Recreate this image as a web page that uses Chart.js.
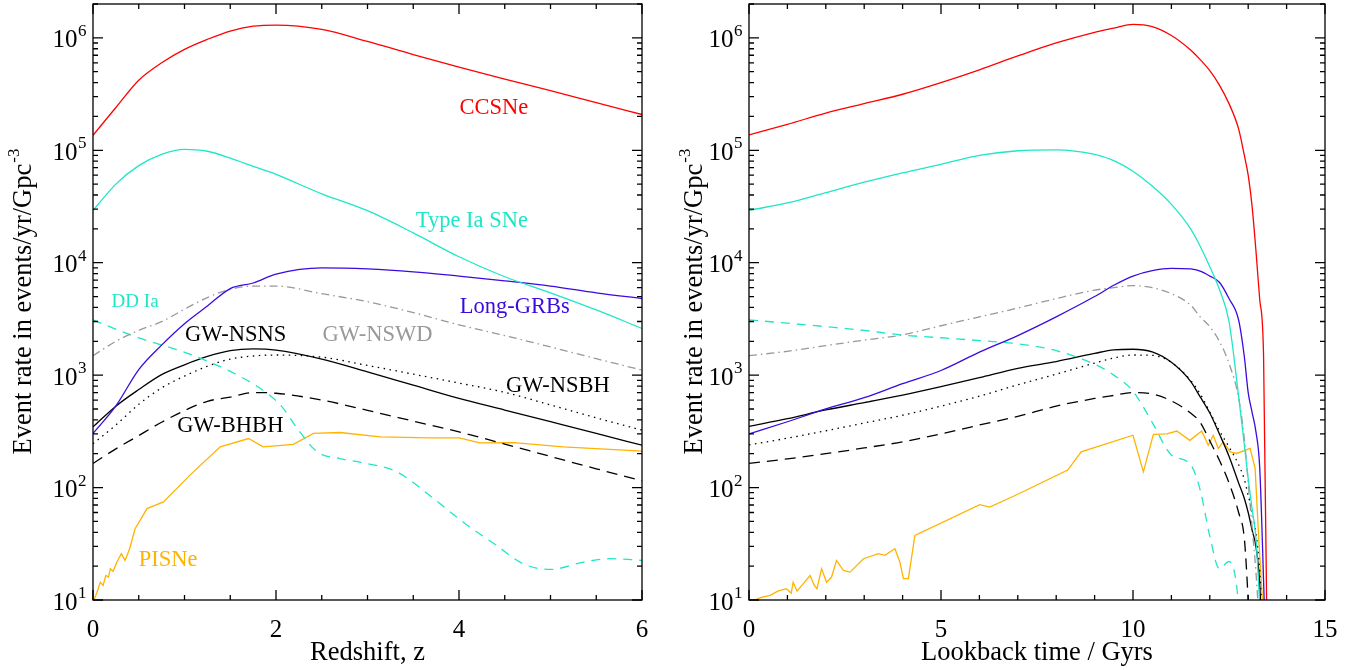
<!DOCTYPE html>
<html>
<head>
<meta charset="utf-8">
<script src="https://cdn.jsdelivr.net/npm/chart.js@4.4.0/dist/chart.umd.min.js"></script>
<style>
  html, body { margin: 0; padding: 0; background: #fff; }
  body { width: 1361px; height: 670px; position: relative; overflow: hidden; }
  canvas { position: absolute; top: 0; }
  #left { left: 0; }
  #right { left: 660px; }
</style>
</head>
<body>
<canvas id="left" width="660" height="670"></canvas>
<canvas id="right" width="701" height="670"></canvas>
<script>
/* ---- values ---- */

// left panel : redshift
const zGrid   = [0, 0.25, 0.5, 0.75, 1, 1.25, 1.5, 1.75, 2, 2.5, 3, 3.5, 4, 4.5, 5, 5.5, 6];
const zCCSNe  = [1.36e5, 2.4e5, 4.2e5, 6.0e5, 7.9e5, 9.7e5, 1.15e6, 1.27e6, 1.30e6, 1.19e6, 9.3e5, 7.1e5, 5.5e5, 4.3e5, 3.4e5, 2.65e5, 2.08e5];
const zTypeIa = [2.92e4, 5.0e4, 7.3e4, 9.2e4, 1.02e5, 9.8e4, 8.5e4, 7.2e4, 6.1e4, 4.1e4, 2.9e4, 1.84e4, 1.13e4, 7.5e3, 5.4e3, 3.8e3, 2.6e3];
const zGRB    = [303, 533, 1120, 1850, 2870, 4120, 5890, 6600, 7900, 9000, 8800, 8300, 7600, 6900, 6200, 5400, 4800];
const zNSWD   = [1490, 2000, 2500, 2990, 3860, 4900, 5800, 6200, 6200, 5300, 4500, 3600, 2800, 2250, 1780, 1400, 1110];
const zNSNS   = [347, 530, 744, 1010, 1235, 1465, 1650, 1710, 1670, 1390, 1070, 815, 621, 489, 385, 303, 238];
const zNSBH   = [245, 360, 550, 770, 980, 1200, 1390, 1480, 1510, 1445, 1220, 1020, 850, 703, 543, 417, 324];
const zBHBH   = [164, 221, 290, 381, 483, 585, 638, 700, 690, 600, 486, 390, 313, 244, 189, 147, 115];

const zDD     = [0, 0.36, 0.51, 0.98, 1.35, 1.6, 1.83, 2.05, 2.26, 2.45, 2.7, 2.95, 3.32, 3.68, 4.05, 4.41, 4.7, 5.0, 5.36, 5.65, 6.0];
const zDDrate = [3100, 2360, 2130, 1620, 1230, 980, 760, 541, 313, 208, 181, 166, 138, 85, 49, 30.6, 21, 18.7, 21.7, 23.3, 22.5];

const zPI     = [0, 0.04, 0.08, 0.11, 0.14, 0.17, 0.19, 0.22, 0.26, 0.31, 0.35, 0.4, 0.46, 0.59, 0.77, 1.06, 1.39, 1.7, 1.86, 2.19, 2.41, 2.7, 3.14, 3.68, 4.0, 4.23, 4.6, 5.14, 6.0];
const zPIrate = [9.5, 11.5, 14.4, 13.5, 16.5, 16, 19, 18, 21.7, 25.8, 22.5, 28.6, 43, 65, 74.5, 129, 230, 273, 230, 242, 303, 309, 282, 277, 277, 250, 251, 230, 211];

// right panel : lookback time (Gyr)
const tGrid   = [0, 1, 2, 3, 4, 5, 6, 7, 8, 9, 9.5, 10, 10.5, 11, 11.5, 11.75, 12, 12.25, 12.5, 12.75, 12.9, 13.0, 13.1, 13.2, 13.3, 13.4, 13.5];
const tCCSNe  = [1.37e5, 1.7e5, 2.14e5, 2.6e5, 3.15e5, 4.0e5, 5.2e5, 6.9e5, 9.0e5, 1.12e6, 1.22e6, 1.32e6, 1.26e6, 1.05e6, 7.8e5, 6.4e5, 5.1e5, 3.8e5, 2.6e5, 1.55e5, 9e4, 6e4, 3.2e4, 1.3e4, 4.7e3, 1.5e3, 2];
const tTypeIa = [2.92e4, 3.4e4, 4.2e4, 5.2e4, 6.3e4, 7.5e4, 9.0e4, 9.9e4, 1.01e5, 9.2e4, 8.1e4, 6.5e4, 4.8e4, 3.3e4, 2.0e4, 1.4e4, 9.2e3, 5.8e3, 3.0e3, 650, 240, 120, 65, 36, 9, 2, 1];
const tGRB    = [300, 385, 500, 630, 840, 1100, 1600, 2250, 3300, 5000, 6300, 7600, 8500, 8900, 8800, 8400, 7600, 6700, 4800, 3100, 1450, 700, 470, 316, 150, 15, 1];
const tNSWD   = [1490, 1630, 1830, 2050, 2280, 2750, 3300, 3950, 4800, 5700, 6000, 6250, 6000, 5300, 4200, 3300, 2700, 2000, 1270, 630, 270, 110, 45, 18, 5, 1, 1];
const tNSNS   = [350, 410, 490, 570, 665, 790, 950, 1150, 1320, 1560, 1680, 1700, 1610, 1300, 880, 640, 460, 300, 190, 110, 80, 60, 42, 30, 14, 2, 1];
const tNSBH   = [240, 275, 320, 375, 440, 530, 650, 820, 1020, 1280, 1420, 1510, 1500, 1300, 900, 680, 470, 320, 230, 160, 118, 85, 62, 40, 18, 4, 1];
const tBHBH   = [164, 180, 200, 225, 255, 300, 360, 430, 530, 620, 660, 700, 680, 590, 460, 380, 260, 175, 110, 60, 35, 10, 2, 1, 1, 1, 1];
const tDD     = [3100, 2900, 2700, 2500, 2270, 2150, 2030, 1900, 1650, 1250, 1000, 720, 380, 195, 160, 95, 37, 19, 22, 9, 1, 1, 1, 1, 1, 1, 1];

const tPI     = [0, 0.3, 0.55, 0.75, 0.97, 1.1, 1.15, 1.25, 1.41, 1.59, 1.7, 1.77, 1.89, 2.02, 2.15, 2.28, 2.46, 2.63, 2.98, 3.37, 3.54, 3.8, 3.93, 4.02, 4.15, 4.32, 6.01, 6.27, 6.93, 8.3, 8.65, 10.0, 10.27, 10.53, 10.88, 11.14, 11.48, 11.79, 11.96, 12.09, 12.22, 12.35, 12.53, 12.7, 13.05, 13.18, 13.27, 13.37, 13.45];
const tPIrate = [9.5, 10.5, 11, 12, 12.6, 11.5, 14.4, 12, 13.9, 16.5, 13.5, 12.6, 19, 14.4, 16, 22.5, 18.3, 17.7, 23.3, 25.8, 25, 28.6, 21.7, 15.5, 15.5, 37.6, 70.5, 67, 85, 143, 208, 292, 138, 297, 300, 318, 263, 318, 238, 292, 223, 255, 208, 201, 223, 148, 37.6, 10, 2];

// axes
const yTickValues = [1e1, 1e2, 1e3, 1e4, 1e5, 1e6];
const yMin = 10, yMax = 2.0e6;

// curve labels on the left panel
const labelText  = ["CCSNe", "Type Ia SNe", "Long-GRBs", "DD Ia", "GW-NSNS", "GW-NSWD", "GW-NSBH", "GW-BHBH", "PISNe"];
const labelZ     = [4.38, 4.14, 4.61, 0.46, 1.56, 3.11, 5.08, 1.5, 0.82];
const labelRate  = [2.35e5, 2.36e4, 4.05e3, 4.48e3, 2.28e3, 2.28e3, 800, 352, 22.5];

/* ---- styles ---- */
const SERIF = "'Liberation Serif', 'Times New Roman', serif";
const RED = '#ff0000', CYAN = '#1fe6c6', BLUE = '#3a0ae0', GREY = '#999999', ORANGE = '#ffb300', BLACK = '#000000';
const labelColor = [RED, CYAN, BLUE, CYAN, BLACK, GREY, BLACK, BLACK, ORANGE];
const labelSize  = [22.5, 22.5, 22.5, 19, 22.5, 22.5, 22.5, 22.5, 22.5];

function pts(xs, ys) {
    return xs.map((x, i) => ({ x: x, y: ys[i] }));
}

function line(xs, ys, color, dash, smooth) {
    return {
        data: pts(xs, ys),
        borderColor: color,
        borderWidth: 1.3,
        borderDash: dash || [],
        cubicInterpolationMode: smooth === false ? 'default' : 'monotone',
        tension: 0,
        pointRadius: 0,
        fill: false
    };
}

const DASH = [11, 7], DDASH = [9, 7], DOT = [1.5, 4.5], DASHDOT = [8, 4, 1.5, 4];

/* ---- frame, inward ticks, y labels and in-plot annotations ---- */
const frameAxes = {
    id: 'frameAxes',
    afterDatasetsDraw(chart, args, opts) {
        const ctx = chart.ctx;
        const a = chart.chartArea;
        const xs = chart.scales.x, ys = chart.scales.y;
        ctx.save();

        // annotations
        (opts.labels || []).forEach(l => {
            ctx.font = l.size + 'px ' + SERIF;
            ctx.fillStyle = l.color;
            ctx.textAlign = 'center';
            ctx.textBaseline = 'middle';
            ctx.fillText(l.text, xs.getPixelForValue(l.x), ys.getPixelForValue(l.y));
        });

        ctx.strokeStyle = '#000';
        ctx.lineWidth = 1.3;
        ctx.strokeRect(a.left, a.top, a.right - a.left, a.bottom - a.top);

        ctx.beginPath();
        const nx = Math.round((xs.max - xs.min) / opts.minorX);
        for (let i = 0; i <= nx; i++) {
            const v = xs.min + i * opts.minorX;
            const px = xs.getPixelForValue(v);
            const major = Math.abs(v / opts.majorX - Math.round(v / opts.majorX)) < 1e-6;
            const len = major ? 10 : 5;
            ctx.moveTo(px, a.bottom); ctx.lineTo(px, a.bottom - len);
            ctx.moveTo(px, a.top); ctx.lineTo(px, a.top + len);
        }
        const d0 = Math.floor(Math.log10(ys.min)), d1 = Math.ceil(Math.log10(ys.max));
        for (let d = d0; d <= d1; d++) {
            for (let m = 1; m <= 9; m++) {
                const v = m * Math.pow(10, d);
                if (v < ys.min * 0.999 || v > ys.max) continue;
                const py = ys.getPixelForValue(v);
                const len = m === 1 ? 10 : 5;
                ctx.moveTo(a.left, py); ctx.lineTo(a.left + len, py);
                ctx.moveTo(a.right, py); ctx.lineTo(a.right - len, py);
            }
        }
        ctx.stroke();

        // y tick labels 10^n
        ctx.fillStyle = '#000';
        ctx.textBaseline = 'alphabetic';
        ctx.textAlign = 'left';
        ys.ticks.forEach(t => {
            const py = ys.getPixelForValue(t.value);
            const exp = String(Math.round(Math.log10(t.value)));
            ctx.font = '25px ' + SERIF;
            const wb = ctx.measureText('10').width;
            ctx.font = '17px ' + SERIF;
            const we = ctx.measureText(exp).width;
            const x0 = a.left - 7 - we - wb;
            ctx.font = '25px ' + SERIF;
            ctx.fillText('10', x0, py + 9.5);
            ctx.font = '17px ' + SERIF;
            ctx.fillText(exp, x0 + wb + 0.5, py - 2);
        });

        // y title with superscript
        const main = 'Event rate in events/yr/Gpc', sup = '-3';
        ctx.font = '26.5px ' + SERIF;
        const wm = ctx.measureText(main).width;
        ctx.font = '17px ' + SERIF;
        const ws = ctx.measureText(sup).width;
        const cy = (a.top + a.bottom) / 2;
        ctx.translate(a.left - opts.titleOffset, cy + (wm + ws) / 2);
        ctx.rotate(-Math.PI / 2);
        ctx.font = '26.5px ' + SERIF;
        ctx.fillText(main, 0, 0);
        ctx.font = '17px ' + SERIF;
        ctx.fillText(sup, wm + 1, -12);

        ctx.restore();
    }
};

function makeChart(id, cfg) {
    return new Chart(document.getElementById(id), {
        type: 'line',
        data: { datasets: cfg.datasets },
        options: {
            responsive: false,
            animation: false,
            events: [],
            layout: { padding: { top: 4, right: cfg.padRight, left: 0, bottom: 0 } },
            plugins: {
                legend: { display: false },
                tooltip: { enabled: false },
                frameAxes: {
                    minorX: cfg.minorX,
                    majorX: cfg.majorX,
                    titleOffset: cfg.titleOffset,
                    labels: cfg.labels
                }
            },
            scales: {
                x: {
                    type: 'linear',
                    min: cfg.xMin,
                    max: cfg.xMax,
                    grid: { display: false },
                    border: { display: false },
                    ticks: {
                        stepSize: cfg.majorX,
                        color: '#000',
                        font: { family: SERIF, size: 25 },
                        padding: 7,
                        maxRotation: 0,
                        callback: v => String(v)
                    },
                    title: {
                        display: true,
                        text: cfg.xTitle,
                        color: '#000',
                        font: { family: SERIF, size: 26.5 },
                        padding: { top: 0, bottom: 1 }
                    },
                    afterFit: s => { s.height = 70; }
                },
                y: {
                    type: 'logarithmic',
                    min: yMin,
                    max: yMax,
                    grid: { display: false },
                    border: { display: false },
                    ticks: { display: false },
                    afterBuildTicks: s => { s.ticks = yTickValues.map(v => ({ value: v })); },
                    afterFit: s => { s.width = cfg.yWidth; }
                }
            }
        },
        plugins: [frameAxes]
    });
}

makeChart('left', {
    xMin: 0, xMax: 6, majorX: 2, minorX: 0.5,
    xTitle: 'Redshift, z',
    yWidth: 93, padRight: 18, titleOffset: 62,
    labels: labelText.map((t, i) => ({ text: t, x: labelZ[i], y: labelRate[i], color: labelColor[i], size: labelSize[i] })),
    datasets: [
        line(zGrid, zCCSNe, RED),
        line(zGrid, zTypeIa, CYAN),
        line(zGrid, zGRB, BLUE),
        line(zGrid, zNSWD, GREY, DASHDOT),
        line(zDD, zDDrate, CYAN, DDASH),
        line(zGrid, zNSNS, BLACK),
        line(zGrid, zNSBH, BLACK, DOT),
        line(zGrid, zBHBH, BLACK, DASH),
        line(zPI, zPIrate, ORANGE, null, false)
    ]
});

makeChart('right', {
    xMin: 0, xMax: 15, majorX: 5, minorX: 1,
    xTitle: 'Lookback time / Gyrs',
    yWidth: 89, padRight: 36, titleOffset: 47,
    labels: [],
    datasets: [
        line(tGrid, tCCSNe, RED),
        line(tGrid, tTypeIa, CYAN),
        line(tGrid, tGRB, BLUE),
        line(tGrid, tNSWD, GREY, DASHDOT),
        line(tGrid, tDD, CYAN, DDASH),
        line(tGrid, tNSNS, BLACK),
        line(tGrid, tNSBH, BLACK, DOT),
        line(tGrid, tBHBH, BLACK, DASH),
        line(tPI, tPIrate, ORANGE, null, false)
    ]
});
</script>
</body>
</html>
